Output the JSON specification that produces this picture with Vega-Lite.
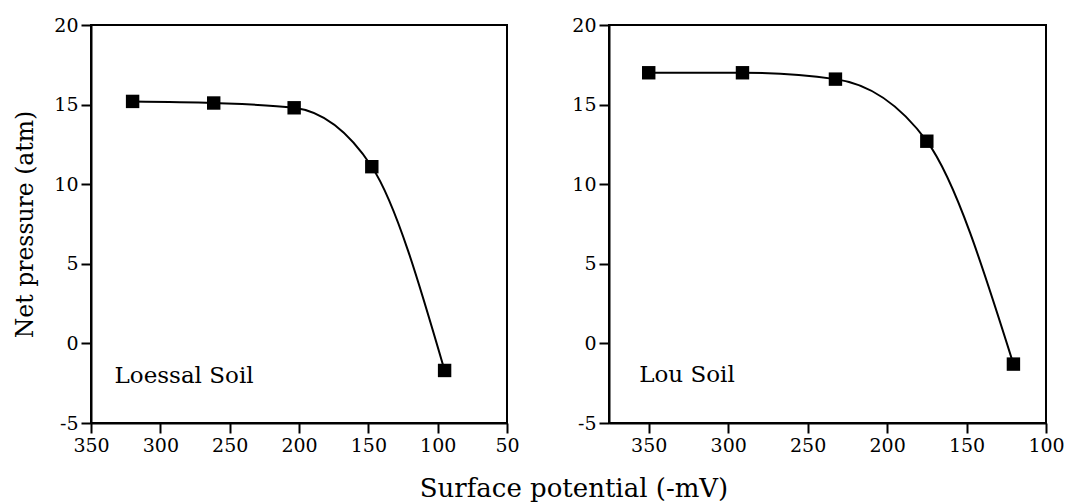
{
  "$schema": "https://vega.github.io/schema/vega-lite/v6.json",
  "background": "white",
  "padding": {"left": 12, "top": 15, "right": 10, "bottom": 0},
  "config": {
    "font": "DejaVu Serif",
    "view": {"stroke": "black", "strokeWidth": 2},
    "axis": {
      "grid": false,
      "domainColor": "black",
      "domainWidth": 2,
      "tickColor": "black",
      "tickWidth": 2,
      "labelFont": "DejaVu Serif",
      "labelFontSize": 19,
      "labelColor": "black",
      "labelPadding": 3,
      "labelOverlap": false,
      "labelFlush": false,
      "labelBound": false,
      "titleFont": "DejaVu Serif",
      "titleFontSize": 23.5,
      "titleFontWeight": "normal",
      "titleColor": "black"
    }
  },
  "datasets": {
    "loessal": [
      {"potential": 320, "pressure": 15.2},
      {"potential": 261.5, "pressure": 15.1},
      {"potential": 203.5, "pressure": 14.8},
      {"potential": 147.5, "pressure": 11.1},
      {"potential": 95, "pressure": -1.7}
    ],
    "lou": [
      {"potential": 350, "pressure": 17.0},
      {"potential": 291, "pressure": 17.0},
      {"potential": 232.5, "pressure": 16.6},
      {"potential": 175, "pressure": 12.7},
      {"potential": 120.5, "pressure": -1.3}
    ]
  },
  "title": {
    "text": "Surface potential (-mV)",
    "orient": "bottom",
    "anchor": "middle",
    "font": "DejaVu Serif",
    "fontSize": 26,
    "fontWeight": "normal",
    "color": "black",
    "offset": 20,
    "dx": 35
  },
  "spacing": 49,
  "hconcat": [
    {
      "width": 416,
      "height": 398,
      "layer": [
        {
          "data": {"name": "loessal"},
          "mark": {"type": "line", "interpolate": "monotone", "color": "black", "strokeWidth": 2},
          "encoding": {
            "x": {
              "field": "potential", "type": "quantitative",
              "scale": {"domain": [50, 350], "reverse": true, "nice": false, "zero": false},
              "axis": {
                "title": null,
                "values": [350, 325, 300, 275, 250, 225, 200, 175, 150, 125, 100, 75, 50],
                "labelExpr": "datum.value % 50 === 0 ? '' + datum.value : ''",
                "tickSize": {"expr": "datum.value % 50 === 0 ? 10 : 6"}
              }
            },
            "y": {
              "field": "pressure", "type": "quantitative",
              "scale": {"domain": [-5, 20], "nice": false, "zero": false},
              "axis": {
                "title": "Net pressure (atm)",
                "titlePadding": 16,
                "values": [-5, -2.5, 0, 2.5, 5, 7.5, 10, 12.5, 15, 17.5, 20],
                "labelExpr": "datum.value % 5 === 0 ? '' + datum.value : ''",
                "tickSize": {"expr": "datum.value % 5 === 0 ? 10 : 6"}
              }
            }
          }
        },
        {
          "data": {"name": "loessal"},
          "mark": {"type": "square", "size": 180, "color": "black", "filled": true, "opacity": 1},
          "encoding": {
            "x": {"field": "potential", "type": "quantitative"},
            "y": {"field": "pressure", "type": "quantitative"}
          }
        },
        {
          "data": {"values": [{"label": "Loessal Soil"}]},
          "mark": {"type": "text", "align": "left", "baseline": "alphabetic", "fontSize": 23, "color": "black", "font": "DejaVu Serif"},
          "encoding": {
            "x": {"datum": 333, "type": "quantitative"},
            "y": {"datum": -2.5, "type": "quantitative"},
            "text": {"field": "label"}
          }
        }
      ]
    },
    {
      "width": 437,
      "height": 398,
      "layer": [
        {
          "data": {"name": "lou"},
          "mark": {"type": "line", "interpolate": "monotone", "color": "black", "strokeWidth": 2},
          "encoding": {
            "x": {
              "field": "potential", "type": "quantitative",
              "scale": {"domain": [100, 375], "reverse": true, "nice": false, "zero": false},
              "axis": {
                "title": null,
                "values": [375, 350, 325, 300, 275, 250, 225, 200, 175, 150, 125, 100],
                "labelExpr": "datum.value % 50 === 0 ? '' + datum.value : ''",
                "tickSize": {"expr": "datum.value % 50 === 0 ? 10 : 6"}
              }
            },
            "y": {
              "field": "pressure", "type": "quantitative",
              "scale": {"domain": [-5, 20], "nice": false, "zero": false},
              "axis": {
                "title": null,
                "values": [-5, -2.5, 0, 2.5, 5, 7.5, 10, 12.5, 15, 17.5, 20],
                "labelExpr": "datum.value % 5 === 0 ? '' + datum.value : ''",
                "tickSize": {"expr": "datum.value % 5 === 0 ? 10 : 6"}
              }
            }
          }
        },
        {
          "data": {"name": "lou"},
          "mark": {"type": "square", "size": 180, "color": "black", "filled": true, "opacity": 1},
          "encoding": {
            "x": {"field": "potential", "type": "quantitative"},
            "y": {"field": "pressure", "type": "quantitative"}
          }
        },
        {
          "data": {"values": [{"label": "Lou Soil"}]},
          "mark": {"type": "text", "align": "left", "baseline": "alphabetic", "fontSize": 23, "color": "black", "font": "DejaVu Serif"},
          "encoding": {
            "x": {"datum": 356, "type": "quantitative"},
            "y": {"datum": -2.4, "type": "quantitative"},
            "text": {"field": "label"}
          }
        }
      ]
    }
  ]
}
